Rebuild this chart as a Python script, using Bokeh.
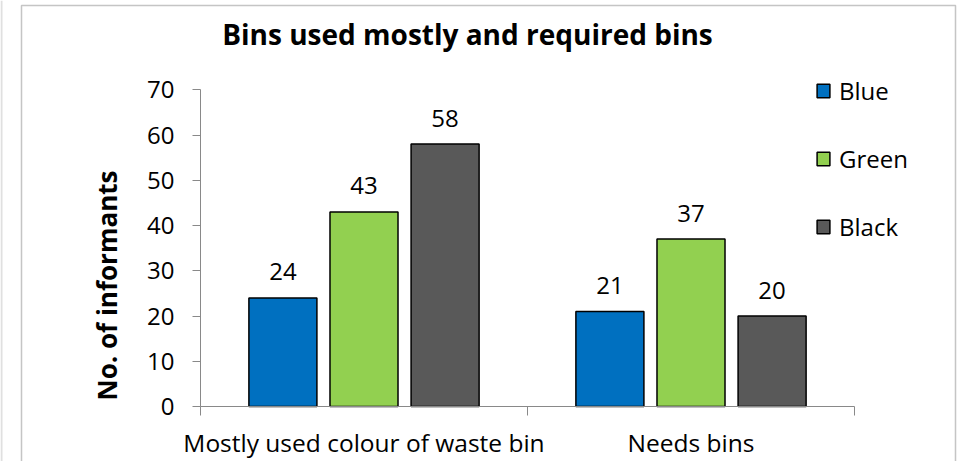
from bokeh.plotting import figure
from bokeh.models import (Range1d, FixedTicker, ColumnDataSource, LabelSet, Label,
                          Legend, LegendItem, BoxAnnotation, Span)
from bokeh.core.properties import value
from bokeh.embed import file_html
from bokeh.resources import INLINE
import math

# ---- data ----
categories = ["Mostly used colour of waste bin", "Needs bins"]
series = ["Blue", "Green", "Black"]
blue = [24, 21]
green = [43, 37]
black = [58, 20]
y_ticks = [0, 10, 20, 30, 40, 50, 60, 70]
title_text = "Bins used mostly and required bins"
y_label = "No. of informants"

# ---- styles / layout ----
colors = ["#0070C0", "#92D050", "#595959"]
offsets = [-0.248, 0.0, 0.248]
bar_w = 0.208
FONT = "Open Sans"
AXIS_COLOR = "#898989"
W, H = 958, 461
X0_PX, X_PX = 200.0, 327.0          # pixel of x=0, pixels per category
Y0_PX, Y70_PX = 406.0, 89.3         # pixel of y=0 and y=70
Y_PX = (Y0_PX - Y70_PX) / 70.0


def dx(px):
    return (px - X0_PX) / X_PX


def dy(py):
    return (Y0_PX - py) / Y_PX


p = figure(width=W, height=H, output_backend="svg", toolbar_location=None,
           x_range=Range1d(dx(0), dx(W)), y_range=Range1d(dy(H), dy(0)),
           min_border=0, min_border_left=0, min_border_right=0,
           min_border_top=0, min_border_bottom=0)
p.outline_line_color = None
p.xgrid.visible = False
p.ygrid.visible = False
p.background_fill_color = "white"
p.border_fill_color = "white"

# y axis
ya = p.yaxis[0]
ya.fixed_location = 0
ya.bounds = (0, 70)
ya.ticker = FixedTicker(ticks=y_ticks)
ya.axis_line_color = AXIS_COLOR
ya.major_tick_line_color = AXIS_COLOR
ya.major_tick_out = 8
ya.major_tick_in = 0
ya.minor_tick_line_color = None
ya.major_label_text_font = FONT
ya.major_label_text_font_size = "24px"
ya.major_label_text_color = "#000000"
ya.major_label_standoff = 18

# y axis title (placed lower than the axis centre, as in the original)
p.add_layout(Label(x=dx(106), y=dy(285), text=y_label, angle=math.pi / 2,
                   text_align="center", text_baseline="middle",
                   text_font=FONT, text_font_size="26px", text_font_style="bold",
                   text_color="#000000"))

# x axis
centers = [i + 0.5 for i in range(len(categories))]
xa = p.xaxis[0]
xa.fixed_location = 0
xa.bounds = (0, len(categories))
xa.ticker = FixedTicker(ticks=centers, minor_ticks=list(range(len(categories) + 1)))
xa.major_label_overrides = {c: lab for c, lab in zip(centers, categories)}
xa.axis_line_color = AXIS_COLOR
xa.major_tick_line_color = None
xa.major_tick_out = 0
xa.major_tick_in = 0
xa.minor_tick_line_color = AXIS_COLOR
xa.minor_tick_out = 9
xa.minor_tick_in = 0
xa.major_label_text_font = FONT
xa.major_label_text_font_size = "24.5px"
xa.major_label_text_color = "#000000"
xa.major_label_standoff = 10

# bars
items = []
for j, (name, vals) in enumerate(zip(series, [blue, green, black])):
    xs = [i + 0.5 + offsets[j] for i in range(len(categories))]
    src = ColumnDataSource(dict(x=xs, top=vals, text=[str(v) for v in vals]))
    r = p.vbar(x="x", top="top", width=bar_w, bottom=0, source=src,
               fill_color=colors[j], line_color="#000000", line_width=1.5)
    items.append(LegendItem(label=name, renderers=[r]))
    p.add_layout(LabelSet(x="x", y="top", text="text", source=src, y_offset=26,
                          text_align="center", text_baseline="middle",
                          text_font=value(FONT), text_font_size="24px", text_color="#000000"))

# legend (screen units from bottom-left of frame = canvas)
legend = Legend(items=items, location=(815, 218), orientation="vertical",
                glyph_width=16, glyph_height=17, label_height=20, spacing=35,
                label_standoff=8, padding=0, margin=0,
                label_text_font=FONT, label_text_font_size="24px", label_text_color="#000000",
                border_line_color=None, background_fill_alpha=0)
p.add_layout(legend)

# title
p.add_layout(Label(x=dx(467), y=dy(33), text=title_text, text_align="center", text_baseline="middle",
                   text_font=FONT, text_font_size="28px", text_font_style="bold",
                   text_color="#000000"))

# chart border (open at the bottom edge of the window)
p.add_layout(BoxAnnotation(left=dx(21), right=dx(955), top=dy(5), bottom=dy(H + 20),
                           fill_alpha=0, line_color="#404040", line_width=1.5))
# faint page line at the far left
p.add_layout(Span(location=dx(1), dimension="height", line_color="#E0E0E0", line_width=2))

open("out.html", "w").write(file_html(p, INLINE))
